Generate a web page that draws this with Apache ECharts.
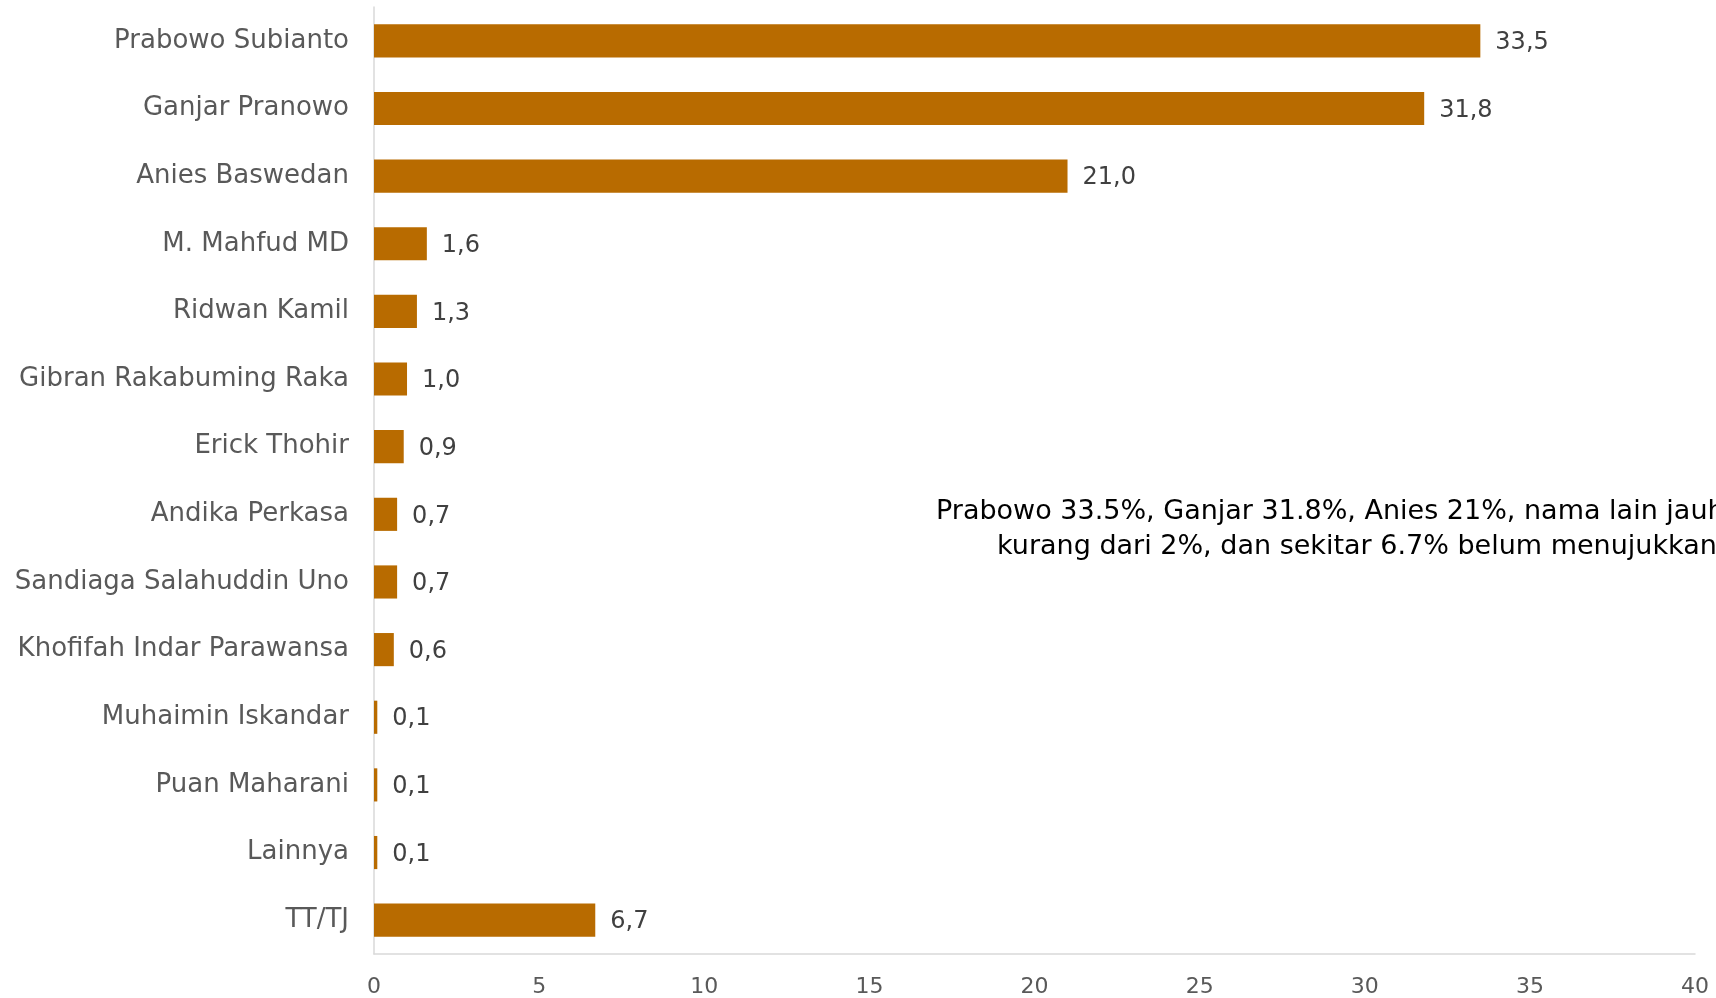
<!DOCTYPE html>
<html>
<head>
<meta charset="utf-8">
<script src="https://cdn.jsdelivr.net/npm/echarts@6/dist/echarts.min.js"></script>
<style>html,body{margin:0;padding:0;background:#fff}#c{width:1716px;height:998px}</style>
</head>
<body>
<div id="c"></div>
<script>
const categories = ["Prabowo Subianto","Ganjar Pranowo","Anies Baswedan","M. Mahfud MD","Ridwan Kamil","Gibran Rakabuming Raka","Erick Thohir","Andika Perkasa","Sandiaga Salahuddin Uno","Khofifah Indar Parawansa","Muhaimin Iskandar","Puan Maharani","Lainnya","TT/TJ"];
const values = [33.5,31.8,21.0,1.6,1.3,1.0,0.9,0.7,0.7,0.6,0.1,0.1,0.1,6.7];
const xTicks = [0,5,10,15,20,25,30,35,40];
const noteLines = ["Prabowo 33.5%, Ganjar 31.8%, Anies 21%, nama lain jauh","kurang dari 2%, dan sekitar 6.7% belum menujukkan pilihan"];

const FONT = "'DejaVu Sans', sans-serif";
const chart = echarts.init(document.getElementById('c'), null, {renderer:'canvas'});
chart.setOption({
  animation:false,
  backgroundColor:'#fff',
  grid:{left:374,right:21,top:7,bottom:42,containLabel:false},
  xAxis:{type:'value',min:xTicks[0],max:xTicks[xTicks.length-1],interval:5,
    axisLine:{show:true,lineStyle:{color:'#d9d9d9',width:1.5}},
    axisTick:{show:false},splitLine:{show:false},
    axisLabel:{color:'#595959',fontSize:22,fontFamily:FONT,margin:22}},
  yAxis:{type:'category',data:categories,inverse:true,
    axisLine:{show:true,lineStyle:{color:'#d9d9d9',width:1.5}},
    axisTick:{show:false},
    axisLabel:{color:'#595959',fontSize:26,fontFamily:FONT,margin:25,padding:[3,0,0,0]}},
  series:[{type:'bar',data:values,barCategoryGap:'51%',
    itemStyle:{color:'#b86b00'},
    label:{show:true,position:'right',distance:15,offset:[0,2],color:'#404040',fontSize:24,fontFamily:FONT,
      formatter:p=>p.value.toFixed(1).replace('.',',')}}],
  graphic:[
    {type:'text',left:936,top:498,style:{text:noteLines[0],fontSize:27,fontFamily:FONT,fill:'#000'}},
    {type:'text',left:997,top:533,style:{text:noteLines[1],fontSize:27,fontFamily:FONT,fill:'#000'}}
  ]
});
</script>
</body>
</html>
